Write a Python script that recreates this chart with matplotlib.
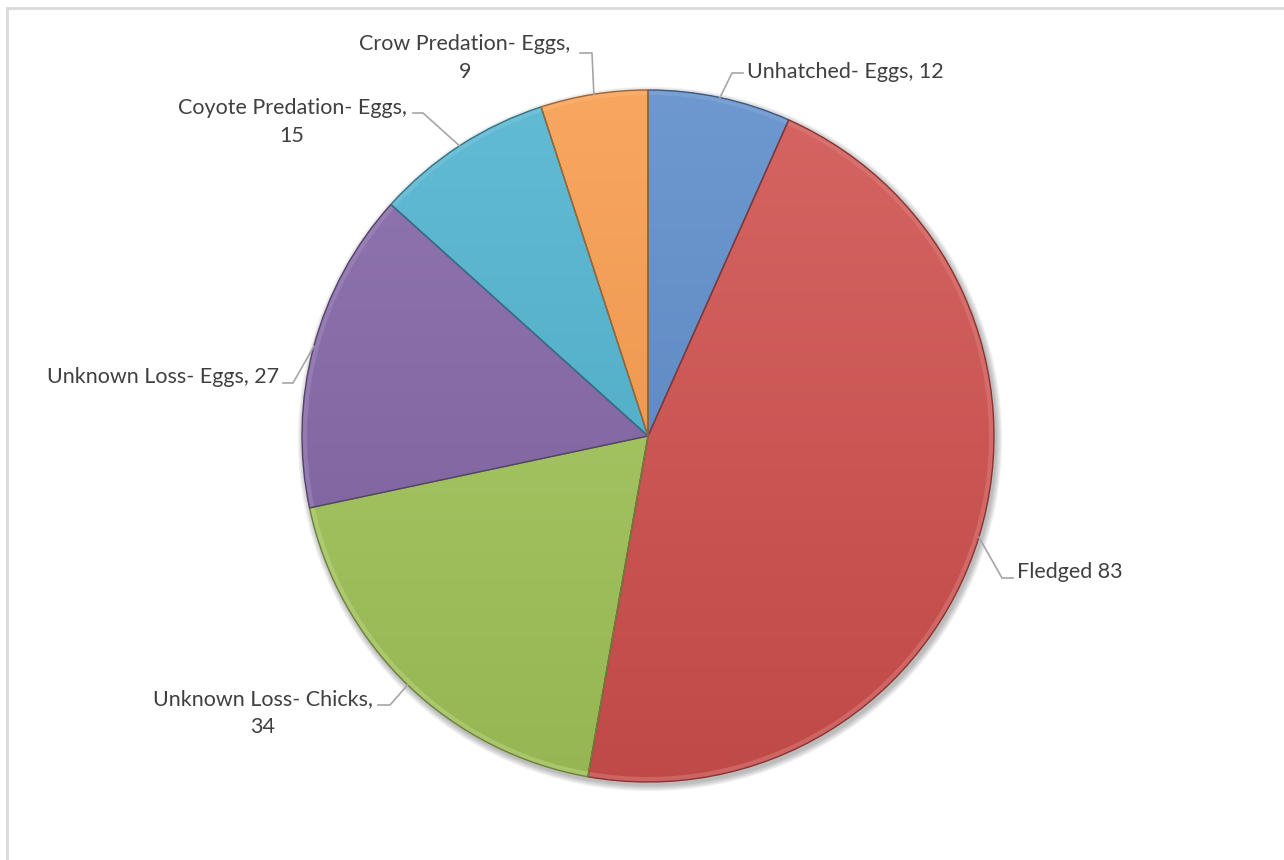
import numpy as np
import matplotlib.pyplot as plt
from matplotlib.colors import to_rgb
from matplotlib.patches import Circle, Wedge

# nest fate counts, clockwise from 12 o'clock
labels = ["Unhatched- Eggs", "Fledged", "Unknown Loss- Chicks",
          "Unknown Loss- Eggs", "Coyote Predation- Eggs", "Crow Predation- Eggs"]
values = [12, 83, 34, 27, 15, 9]
label_texts = ["Unhatched- Eggs, 12", "Fledged 83", "Unknown Loss- Chicks,\n34",
               "Unknown Loss- Eggs, 27", "Coyote Predation- Eggs,\n15",
               "Crow Predation- Eggs,\n9"]
colors = ["#5A8AC9", "#D0504D", "#A3C65A", "#8264A6", "#4DB2CF", "#F89A49"]

W, H = 1284, 860
cx, cy, R = 648, 436, 346

fig = plt.figure(figsize=(W / 100, H / 100), dpi=100)
ax = fig.add_axes([0, 0, 1, 1])

# y axis runs downward, so with startangle=-90 and counterclock=True
# the slices go clockwise from the top on screen
wedges, _ = ax.pie(values, startangle=-90, counterclock=True,
                   center=(cx, cy), radius=R, colors=colors,
                   wedgeprops=dict(lw=0, zorder=2), frame=True)
ax.set_xlim(0, W)
ax.set_ylim(H, 0)
ax.set_aspect("equal")
ax.axis("off")

# chart frame
ax.plot([7, 7, W], [H, 7.5, 7.5], color="#D9D9D9", lw=2, solid_joinstyle="miter")

# soft shadow behind the pie
for k in range(1, 9):
    ax.add_patch(Circle((cx + 2, cy + 3), R + k * 0.8, color="black",
                        alpha=0.035, lw=0, zorder=1))


def shade(c, f):
    c = np.array(to_rgb(c))
    if f > 0:
        return c + (1 - c) * f
    return c * (1 + f)


# vertical gradient inside each wedge (lighter top, darker bottom)
ny = 200
t = np.linspace(0, 1, ny)[:, None, None]
for w, c in zip(wedges, colors):
    top, bot = shade(c, 0.12), shade(c, -0.08)
    img = top[None, None, :] * (1 - t) + bot[None, None, :] * t
    img = np.repeat(img, 2, axis=1)
    im = ax.imshow(img, extent=(cx - R, cx + R, cy + R, cy - R),
                   interpolation="bilinear", zorder=3)
    im.set_clip_path(w)
    # bevel: light rim and darker seam
    ax.add_patch(Wedge((cx, cy), R, w.theta1, w.theta2, width=5,
                       color=shade(c, 0.25), alpha=0.55, lw=0, zorder=4))
    ax.add_patch(Wedge((cx, cy), R, w.theta1, w.theta2, fill=False,
                       ec=shade(c, -0.35), lw=1.0, zorder=5))

ax.set_xlim(0, W)
ax.set_ylim(H, 0)

# data labels with leader lines
font = dict(family=["Lato", "DejaVu Sans"], size=15.5, color="#404040")
lead = dict(color="#A6A6A6", lw=1.2, zorder=6)
layout = [
    # elbow, end of leader, text pos, ha
    ((732, 73), (743, 73), (747, 72), "left"),
    ((1002, 578), (1013, 578), (1017, 572), "left"),
    ((390, 705), (378, 705), (263, 713), "center"),
    ((293, 383), (283, 383), (279, 377), "right"),
    ((423, 113), (413, 113), (292, 122), "center"),
    ((592, 53), (580, 53), (465, 58), "center"),
]
for w, txt, (elbow, end, pos, ha) in zip(wedges, label_texts, layout):
    mid = np.deg2rad((w.theta1 + w.theta2) / 2)
    ax_x = cx + R * np.cos(mid)
    ax_y = cy + R * np.sin(mid)
    ax.plot([ax_x, elbow[0], end[0]], [ax_y, elbow[1], end[1]], **lead)
    ax.text(pos[0], pos[1], txt, ha=ha, va="center", linespacing=1.5,
            multialignment="center", **font)

fig.savefig("out.png", dpi=100)
